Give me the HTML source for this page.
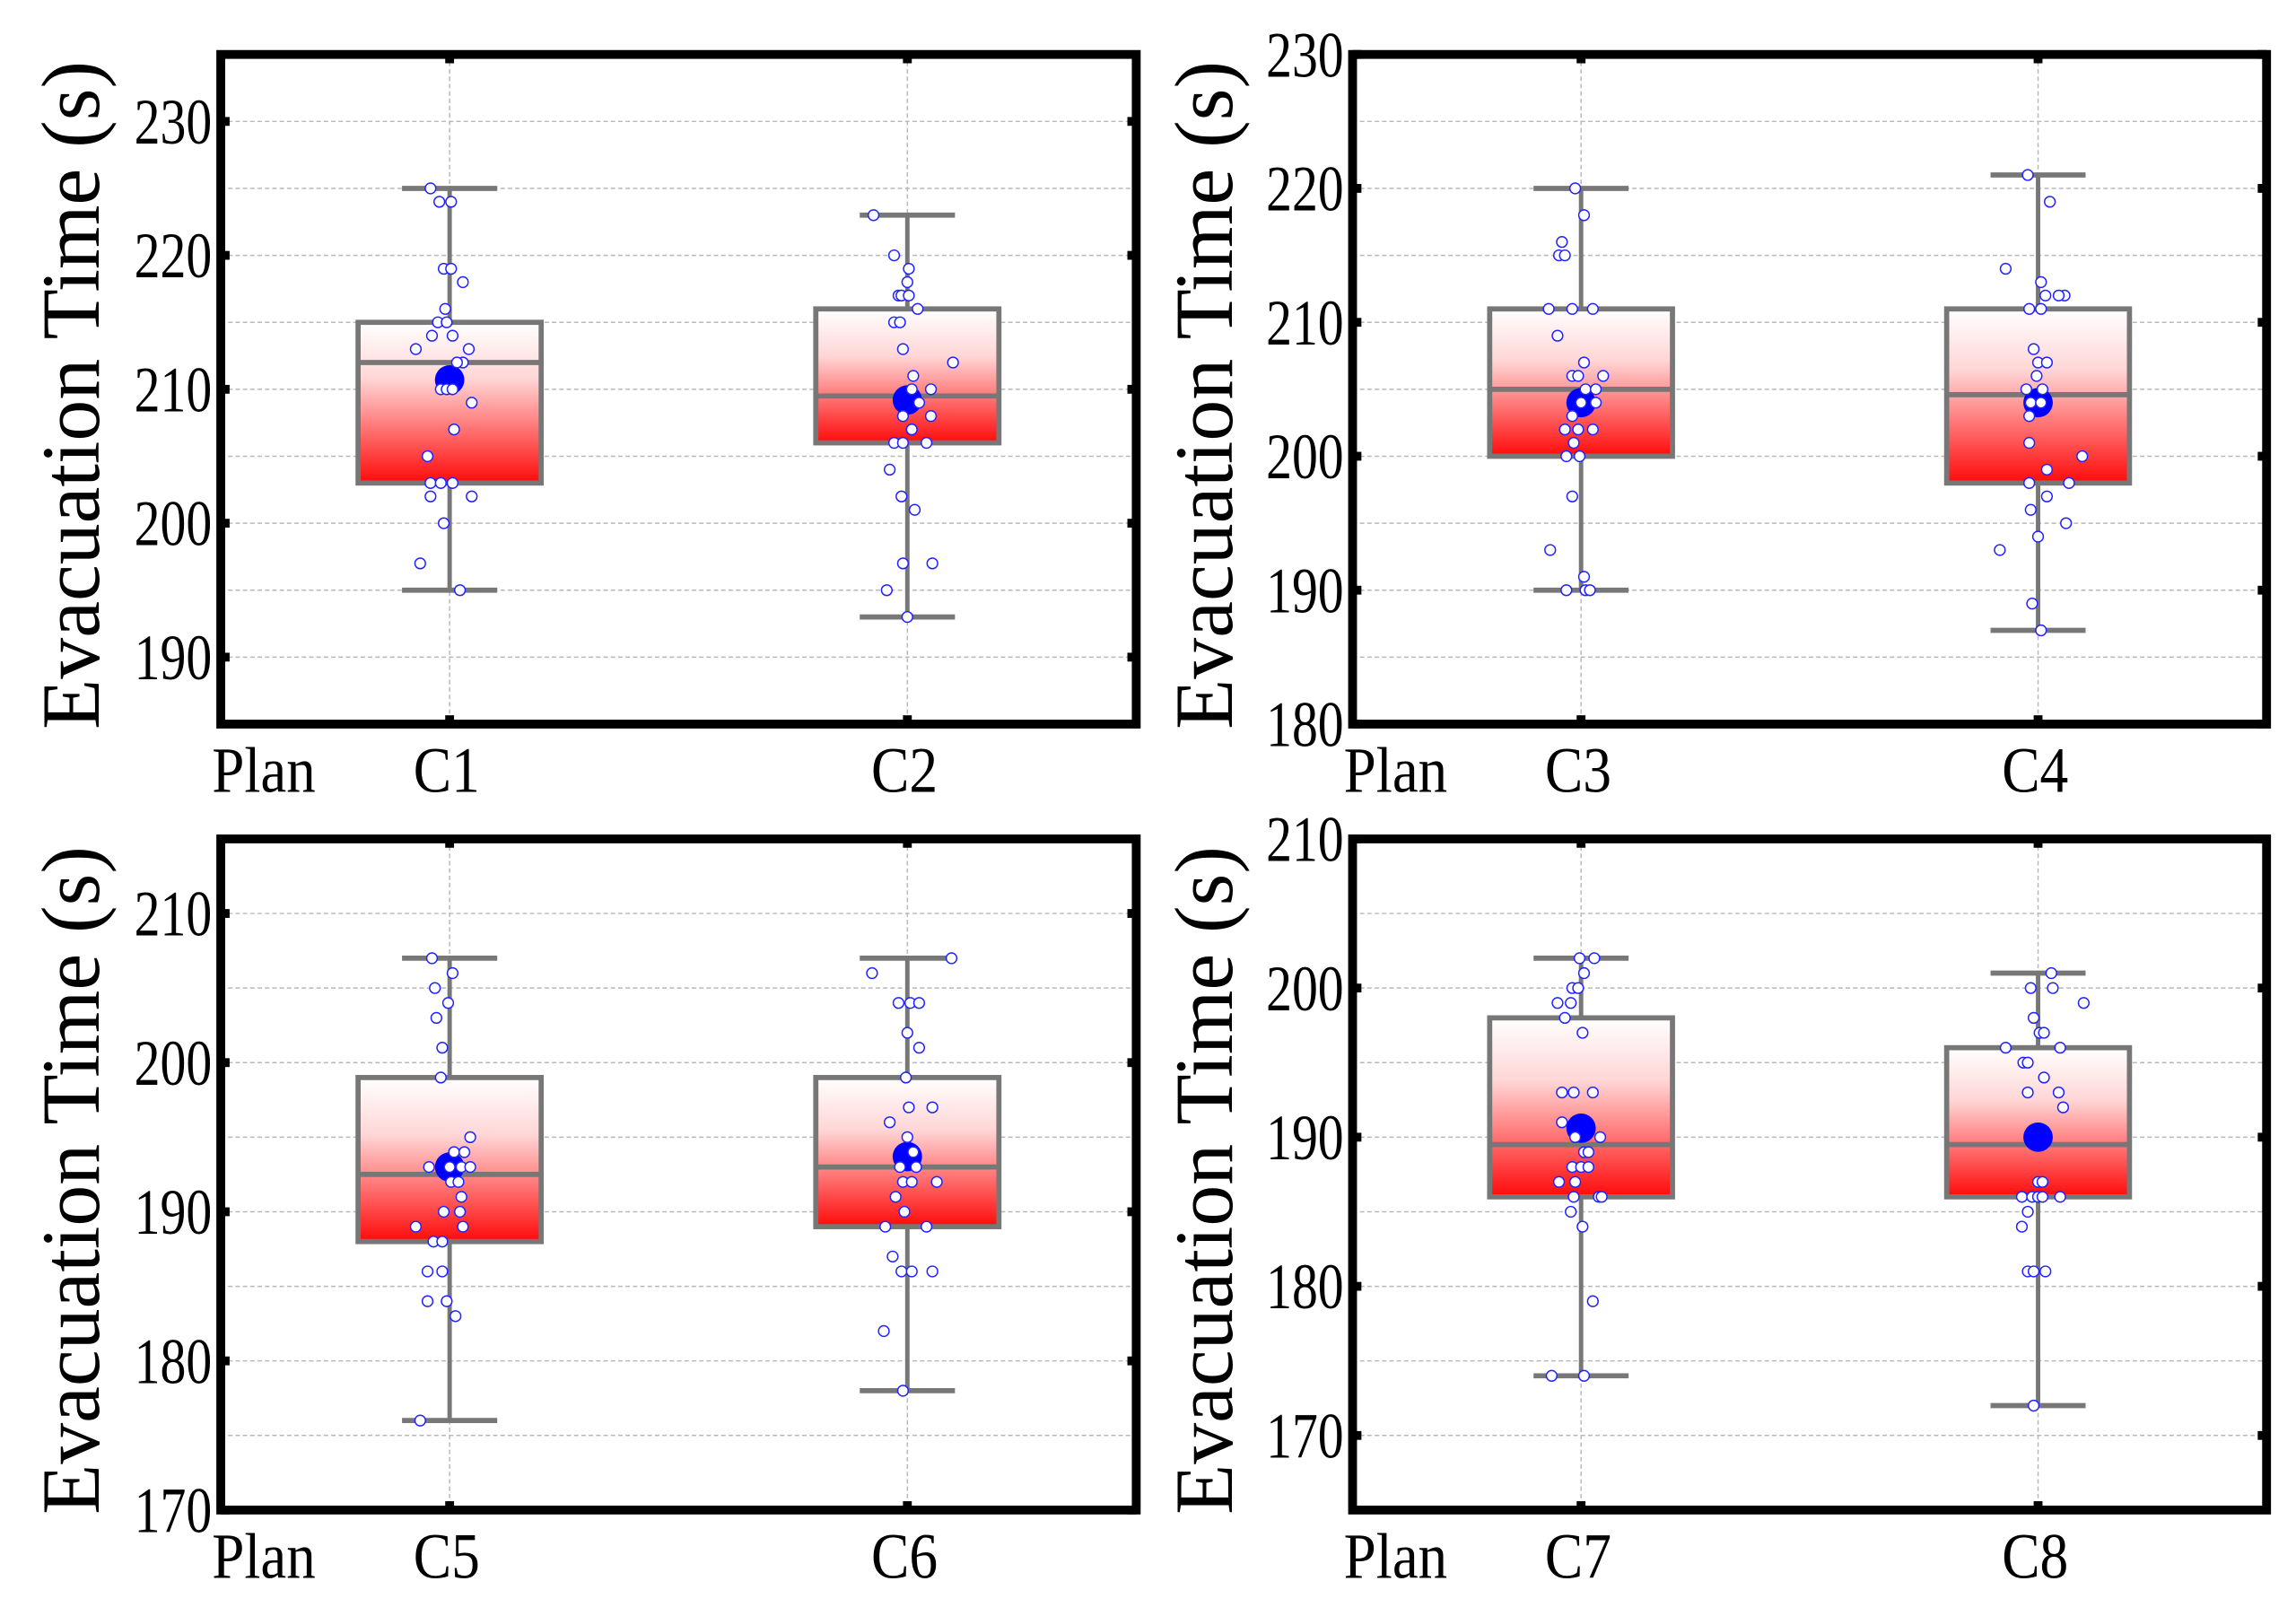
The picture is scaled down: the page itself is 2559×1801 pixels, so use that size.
<!DOCTYPE html>
<html><head><meta charset="utf-8"><style>
html,body{margin:0;padding:0;background:#fff;}
svg{display:block;}
text{font-family:"Liberation Serif",serif;fill:#000;}
</style></head><body>
<svg id="fig" width="2559" height="1801" viewBox="0 0 1560 1098" preserveAspectRatio="none" xmlns="http://www.w3.org/2000/svg">
<defs>
<linearGradient id="boxgrad" x1="0" y1="0" x2="0" y2="1">
<stop offset="0" stop-color="#ffffff"/>
<stop offset="0.35" stop-color="#ffd6d6"/>
<stop offset="1" stop-color="#ff0a0a"/>
</linearGradient>
</defs>
</svg>
<script>
// ---- data (values in seconds) ----
const categories = ["C1","C2","C3","C4","C5","C6","C7","C8"];
const whiskerLow  = [195,193,190,187,176,178,174,172];
const whiskerHigh = [225,223,220,221,207,207,202,201];
const q1Values    = [203,206,200,198,188,189,186,186];
const q3Values    = [215,216,211,211,199,199,198,196];
const medianValues= [212,209.5,205,204.6,192.5,193,189.5,189.5];
const meanValues  = [210.7,209.2,204,204,193,193.7,190.6,190];
const panelYMin   = [185,180,170,165];
const panelYMax   = [235,230,215,210];
const panelTicks  = [[190,200,210,220,230],[180,190,200,210,220,230],[170,180,190,200,210],[170,180,190,200,210]];
// individual observations: values and jitter offsets
const pointsC1 = [225,224,224,219,219,218,216,215,215,214,214,213,213,212,212,210,210,210,209,207,205,203,203,203,202,202,200,197,195];
const jitterC1 = [-13,-7,1,-4,1,9,-3,-8,-2,-12,2,-23,13,9,5,-6,-2,2,15,3,-15,-13,-6,2,-13,15,-4,-20,7];
const pointsC2 = [223,220,219,218,217,217,217,216,215,215,213,212,211,210,210,209,208,208,207,207,206,206,206,204,202,201,197,197,195,193];
const jitterC2 = [-23,-9,1,0,-6,-4,1,7,-9,-5,-3,31,4,3,16,8,-3,16,3,3,-9,-3,13,-12,-4,5,-3,17,-14,0];
const pointsC3 = [220,218,216,215,215,211,211,211,209,207,206,206,206,205,205,204,204,203,202,202,202,201,200,200,197,193,191,190,190,190];
const jitterC3 = [-4,2,-13,-15,-11,-22,-6,8,-16,2,-6,-2,15,3,10,10,0,-6,-11,-2,8,-5,-10,-1,-6,-21,2,-10,3,6];
const pointsC4 = [221,219,214,213,212,212,212,211,211,208,207,207,206,205,205,204,204,203,201,200,199,198,198,197,196,195,194,193,189,187];
const jitterC4 = [-7,8,-22,2,5,18,14,-6,2,-3,0,6,-1,-8,3,-5,2,-6,-6,30,6,-6,21,6,-5,19,0,-26,-4,2];
const pointsC5 = [207,206,205,204,203,201,199,195,194,194,193,193,193,193,192,192,191,190,190,189,189,188,188,186,186,184,184,183,176];
const jitterC5 = [-12,2,-10,-1,-9,-5,-6,14,3,10,-14,0,8,14,1,6,8,-4,7,-23,9,-11,-5,-15,-5,-15,-2,4,-20];
const pointsC6 = [207,206,204,204,204,202,201,199,197,197,196,195,194,193,193,192,192,192,191,190,189,189,187,186,186,186,182,178];
const jitterC6 = [30,-24,-6,2,8,0,8,-1,1,17,-12,0,4,-5,6,-3,3,20,-8,-2,-15,13,-10,-4,3,17,-16,-3];
const pointsC7 = [202,202,201,200,200,199,199,198,197,193,193,193,191,190,190,189,189,188,188,188,187,187,186,186,186,185,184,179,174,174];
const jitterC7 = [-1,9,2,-6,-2,-16,-7,-11,1,-13,-5,8,-13,-4,13,2,5,-6,0,5,-15,-4,-5,12,14,-7,1,8,-20,2];
const pointsC8 = [201,200,200,199,198,197,197,196,196,195,195,194,193,193,192,187,187,186,186,186,186,186,185,184,181,181,181,172];
const jitterC8 = [9,-5,10,31,-3,1,4,-22,15,-10,-7,4,-7,14,17,0,3,-11,-4,0,3,15,-7,-11,-7,-3,5,-3];
const allPoints = [pointsC1,pointsC2,pointsC3,pointsC4,pointsC5,pointsC6,pointsC7,pointsC8];
const allJitter = [jitterC1,jitterC2,jitterC3,jitterC4,jitterC5,jitterC6,jitterC7,jitterC8];

// ---- layout ----
const NS = "http://www.w3.org/2000/svg";
const svg = document.getElementById('fig');
const panels = [
  {x0:150,x1:772,y0:37,y1:492,titleX:48},
  {x0:919,x1:1540,y0:37,y1:492,titleX:818},
  {x0:150,x1:772,y0:570,y1:1026,titleX:48},
  {x0:919,x1:1540,y0:570,y1:1026,titleX:818}
];
function mk(tag, attrs, parent){
  const e = document.createElementNS(NS, tag);
  for (const k in attrs) e.setAttribute(k, attrs[k]);
  (parent||svg).appendChild(e);
  return e;
}
panels.forEach((p, pi) => {
  const g = mk('g', {});
  
  
  const ymin = panelYMin[pi], ymax = panelYMax[pi];
  const yScale = v => p.y1 - (v - ymin) / (ymax - ymin) * (p.y1 - p.y0);
  const W = p.x1 - p.x0;
  const xScale = i => p.x0 + W * (0.25 + 0.5 * i);
  for (let v = ymin + 5; v < ymax; v += 5) {
    const gl = mk('line', {x1:p.x0, x2:p.x1, y1:yScale(v), y2:yScale(v), stroke:'#b8b8b8', 'stroke-width':0.9, 'stroke-dasharray':'3,2'}, g);
    
    
  }
  for (let i = 0; i < 2; i++) {
    const vl = mk('line', {x1:xScale(i), x2:xScale(i), y1:p.y0, y2:p.y1, stroke:'#b8b8b8', 'stroke-width':0.9, 'stroke-dasharray':'3,2'}, g);
    
    
  }
  for (let i = 0; i < 2; i++) {
    const c = pi * 2 + i;
    const cx = xScale(i);
    const bw = W * 0.1, cw = W * 0.052;
    const bg = mk('g', {}, g);
    
    
    mk('line', {x1:cx, x2:cx, y1:yScale(whiskerLow[c]), y2:yScale(q1Values[c]), stroke:'#777', 'stroke-width':3}, bg);
    mk('line', {x1:cx, x2:cx, y1:yScale(whiskerHigh[c]), y2:yScale(q3Values[c]), stroke:'#777', 'stroke-width':3}, bg);
    mk('line', {x1:cx-cw, x2:cx+cw, y1:yScale(whiskerLow[c]), y2:yScale(whiskerLow[c]), stroke:'#777', 'stroke-width':3.5}, bg);
    mk('line', {x1:cx-cw, x2:cx+cw, y1:yScale(whiskerHigh[c]), y2:yScale(whiskerHigh[c]), stroke:'#777', 'stroke-width':3.5}, bg);
    mk('rect', {x:cx-bw, y:yScale(q3Values[c]), width:2*bw, height:yScale(q1Values[c])-yScale(q3Values[c]), fill:'url(#boxgrad)', stroke:'#777', 'stroke-width':3.5}, bg);
    mk('line', {x1:cx-bw, x2:cx+bw, y1:yScale(medianValues[c]), y2:yScale(medianValues[c]), stroke:'#777', 'stroke-width':3.5}, bg);
    const m = mk('circle', {cx:cx, cy:yScale(meanValues[c]), r:10, fill:'#0000ff'}, bg);
    
    
    allPoints[c].forEach((v, k) => {
      const pt = mk('circle', {cx:cx + allJitter[c][k], cy:yScale(v), r:3.6, fill:'#fff', stroke:'#2222ff', 'stroke-width':0.9}, bg);
      
      
    });
    const lbl = mk('text', {x:0, y:0, 'font-size':44, 'text-anchor':'middle', transform:`translate(${cx-2},${p.y1+46}) scale(0.88,1)`}, g);
    lbl.textContent = categories[c];
    
    
  }
  const fr = mk('rect', {x:p.x0, y:p.y0, width:W, height:p.y1-p.y0, fill:'none', stroke:'#000', 'stroke-width':6}, g);
  
  
  panelTicks[pi].forEach(v => {
    const y = yScale(v);
    mk('rect', {x:p.x0, y:y-3, width:6, height:6, fill:'#000'}, g);
    mk('rect', {x:p.x1-6, y:y-3, width:6, height:6, fill:'#000'}, g);
    const t = mk('text', {x:0, y:0, 'font-size':44, 'text-anchor':'end', transform:`translate(${p.x0-6},${y+15}) scale(0.8,1)`}, g);
    t.textContent = v;
    
    
  });
  for (let i = 0; i < 2; i++) {
    mk('rect', {x:xScale(i)-3, y:p.y0, width:6, height:6, fill:'#000'}, g);
    mk('rect', {x:xScale(i)-3, y:p.y1-6, width:6, height:6, fill:'#000'}, g);
  }
  const plan = mk('text', {x:0, y:0, 'font-size':44, transform:`translate(${p.x0-6},${p.y1+46}) scale(0.9,1)`}, g);
  plan.textContent = 'Plan';
  
  
  const yt = mk('text', {x:0, y:0, 'font-size':56, 'text-anchor':'middle', transform:`translate(${p.titleX+19},${(p.y0+p.y1)/2+4}) rotate(-90)`}, g);
  yt.textContent = 'Evacuation Time (s)';
  
  
});
</script>
</body></html>
